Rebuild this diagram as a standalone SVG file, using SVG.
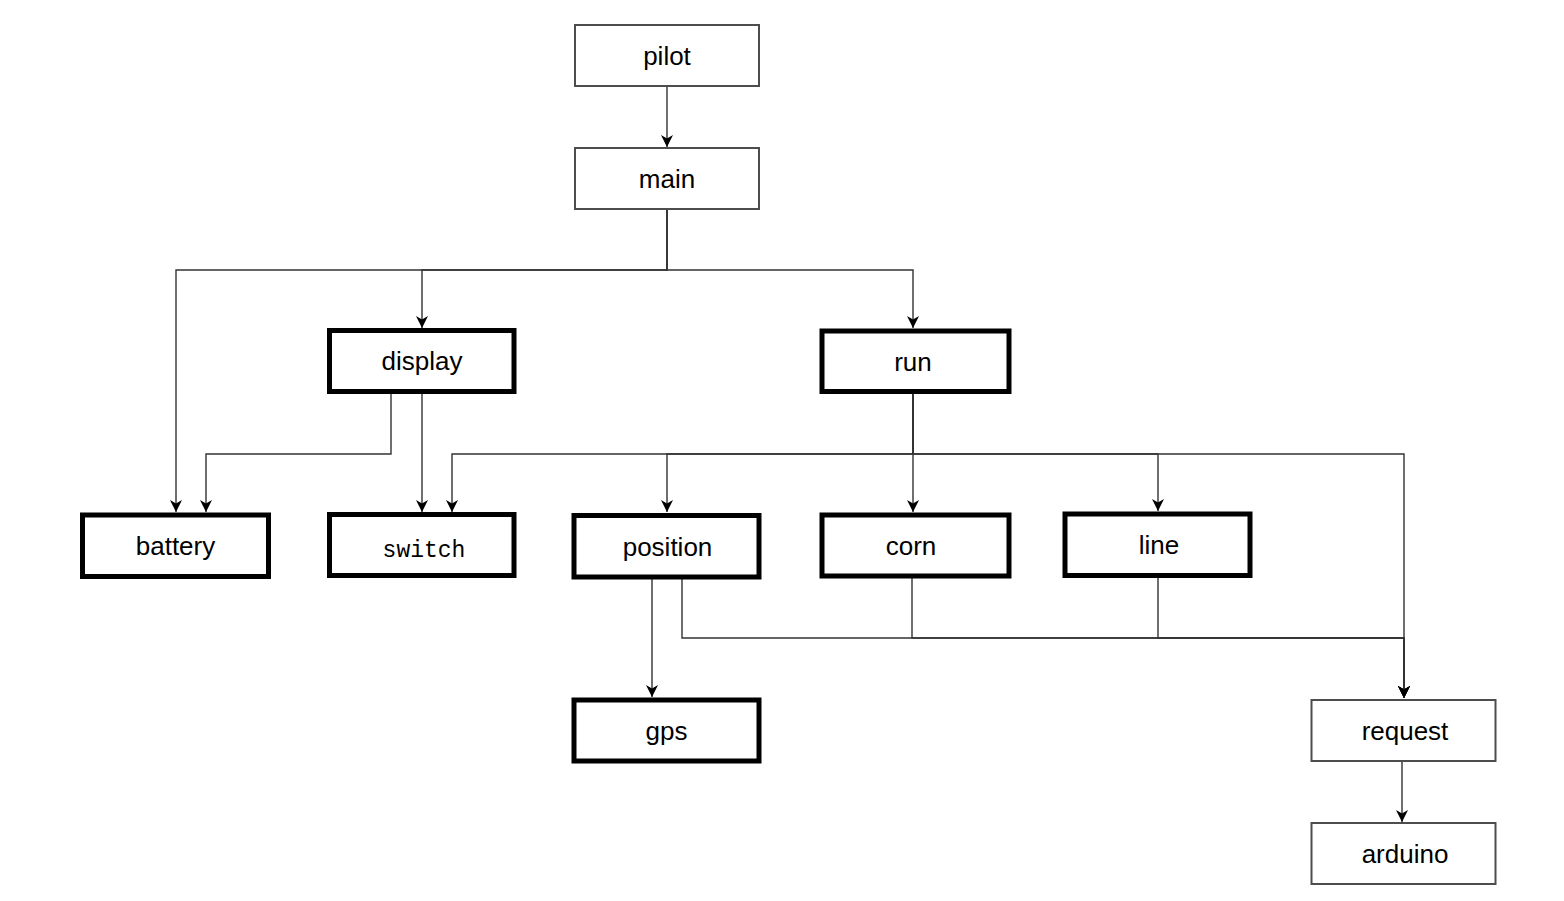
<svg xmlns="http://www.w3.org/2000/svg" width="1564" height="901" viewBox="0 0 1564 901">
<style>
.thin{fill:#fff;stroke:#4d4d4d;stroke-width:2}
.thick{fill:#fff;stroke:#000;stroke-width:5}
.lbl{font-family:"Liberation Sans",Arial,sans-serif;font-size:26px;fill:#000;text-anchor:middle}
.mono{font-family:"Liberation Mono","DejaVu Sans Mono",monospace;font-size:23px;fill:#000;text-anchor:middle}
.edge{fill:none;stroke:#333;stroke-width:1.4}
</style>
<defs>
<marker id="arr" markerWidth="14" markerHeight="14" refX="12" refY="7" orient="auto" markerUnits="userSpaceOnUse" viewBox="0 0 14 14">
<path d="M0,1 L12,7 L0,13 L3.5,7 Z" fill="#000"/>
</marker>
</defs>
<rect width="1564" height="901" fill="#fff"/>
<g id="connectors">
<path class="edge" d="M667,86 V147" marker-end="url(#arr)"/>
<path class="edge" d="M667,209 V270 H176 V512" marker-end="url(#arr)"/>
<path class="edge" d="M667,209 V270 H422 V328" marker-end="url(#arr)"/>
<path class="edge" d="M667,209 V270 H913 V328" marker-end="url(#arr)"/>
<path class="edge" d="M391,394 V454 H206 V512" marker-end="url(#arr)"/>
<path class="edge" d="M422,394 V512" marker-end="url(#arr)"/>
<path class="edge" d="M913,394 V454 H452 V512" marker-end="url(#arr)"/>
<path class="edge" d="M913,394 V454 H667 V512" marker-end="url(#arr)"/>
<path class="edge" d="M913,394 V512" marker-end="url(#arr)"/>
<path class="edge" d="M913,394 V454 H1158 V511" marker-end="url(#arr)"/>
<path class="edge" d="M913,394 V454 H1404 V698" marker-end="url(#arr)"/>
<path class="edge" d="M652,579 V697" marker-end="url(#arr)"/>
<path class="edge" d="M682,579 V638 H1404 V698" marker-end="url(#arr)"/>
<path class="edge" d="M912,578 V638 H1404 V698" marker-end="url(#arr)"/>
<path class="edge" d="M1158,578 V638 H1404 V698" marker-end="url(#arr)"/>
<path class="edge" d="M1402,762 V822" marker-end="url(#arr)"/>
</g>
<g id="pilot"><rect class="thin" x="575" y="25" width="184" height="61"/><text class="lbl" x="667" y="64.5">pilot</text></g>
<g id="main"><rect class="thin" x="575" y="148" width="184" height="61"/><text class="lbl" x="667" y="187.5">main</text></g>
<g id="display"><rect class="thick" x="329.5" y="330.5" width="184.5" height="61"/><text class="lbl" x="422" y="370">display</text></g>
<g id="run"><rect class="thick" x="822" y="331" width="187" height="60.5"/><text class="lbl" x="913" y="370.5">run</text></g>
<g id="battery"><rect class="thick" x="82.5" y="515" width="186" height="61.5"/><text class="lbl" x="175.5" y="555">battery</text></g>
<g id="switch"><rect class="thick" x="329.5" y="514.5" width="184.5" height="61"/><text class="mono" x="424" y="556.5">switch</text></g>
<g id="position"><rect class="thick" x="574" y="515.5" width="185" height="61.5"/><text class="lbl" x="667.5" y="555.5">position</text></g>
<g id="corn"><rect class="thick" x="822" y="515" width="187" height="61"/><text class="lbl" x="911" y="554.5">corn</text></g>
<g id="line"><rect class="thick" x="1065" y="514" width="185" height="61.5"/><text class="lbl" x="1159" y="554">line</text></g>
<g id="gps"><rect class="thick" x="574" y="700" width="185" height="61"/><text class="lbl" x="666.5" y="739.5">gps</text></g>
<g id="request"><rect class="thin" x="1311.5" y="700" width="184" height="61"/><text class="lbl" x="1405" y="739.5">request</text></g>
<g id="arduino"><rect class="thin" x="1311.5" y="823" width="184" height="61"/><text class="lbl" x="1405" y="862.5">arduino</text></g>
</svg>
